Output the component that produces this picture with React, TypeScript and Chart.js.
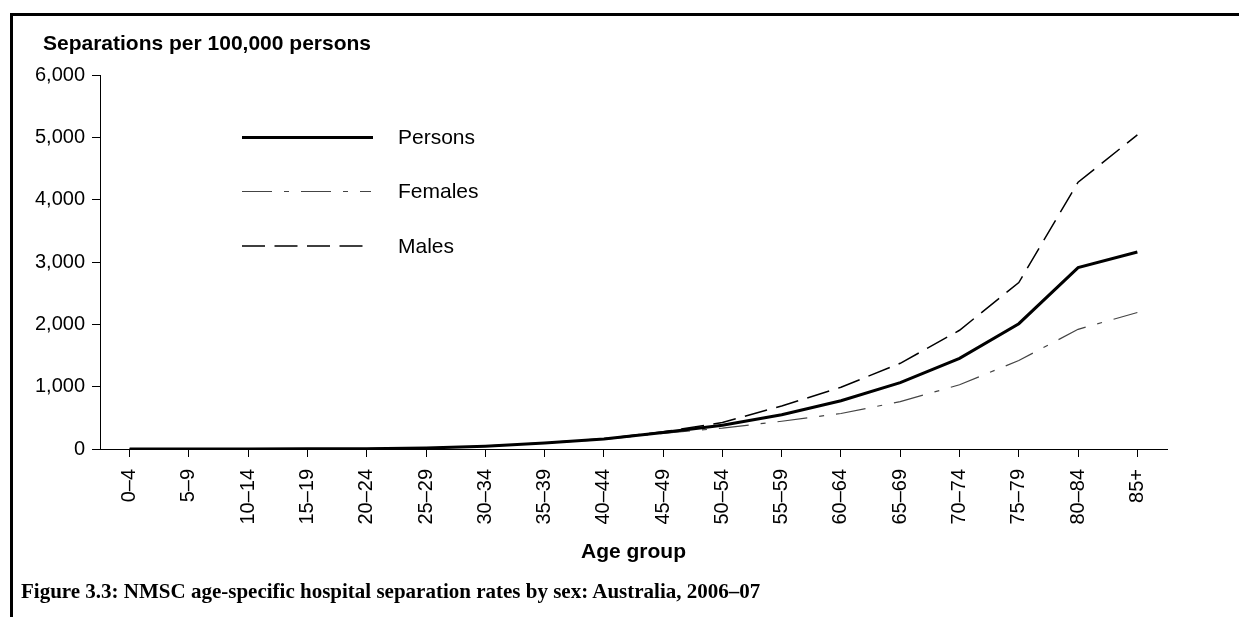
import React, { useEffect, useRef } from "react";
import { Chart, registerables } from "chart.js";

Chart.register(...registerables);

const ageGroups = [
  "0–4", "5–9", "10–14", "15–19", "20–24", "25–29", "30–34", "35–39", "40–44",
  "45–49", "50–54", "55–59", "60–64", "65–69", "70–74", "75–79", "80–84", "85+",
];
const persons = [1, 1, 2, 3, 6, 15, 45, 95, 160, 265, 380, 550, 775, 1065, 1455, 2010, 2910, 3160];
const females = [1, 1, 2, 3, 6, 15, 44, 92, 155, 250, 335, 445, 570, 760, 1030, 1420, 1920, 2190];
const males = [1, 1, 2, 3, 6, 15, 46, 98, 165, 275, 425, 690, 990, 1375, 1905, 2670, 4280, 5040];
const seriesNames = ["Persons", "Females", "Males"];
const yMin = 0;
const yMax = 6000;
const yStep = 1000;

const yTitle = "Separations per 100,000 persons";
const xTitle = "Age group";
const caption = "Figure 3.3: NMSC age-specific hospital separation rates by sex: Australia, 2006–07";

const SANS = '"Liberation Sans", Arial, sans-serif';

export default function App() {
  const ref = useRef<HTMLCanvasElement>(null);

  useEffect(() => {
    if (!ref.current) return;
    Chart.defaults.font.family = SANS;
    Chart.defaults.color = "#000";

    const legendRows = [137.5, 191.5, 246];
    const overlay = {
      id: "overlay",
      afterDatasetsDraw(chart: any) {
        const ctx = chart.ctx as CanvasRenderingContext2D;
        ctx.save();
        chart.data.datasets.forEach((ds: any, i: number) => {
          const y = legendRows[i];
          ctx.beginPath();
          ctx.setLineDash(ds.borderDash || []);
          ctx.lineWidth = ds.borderWidth;
          ctx.strokeStyle = ds.borderColor;
          ctx.moveTo(242, y);
          ctx.lineTo(i === 0 ? 373 : 371, y);
          ctx.stroke();
          ctx.setLineDash([]);
          ctx.fillStyle = "#000";
          ctx.font = `21px ${SANS}`;
          ctx.textBaseline = "alphabetic";
          ctx.textAlign = "left";
          ctx.fillText(ds.label, 398, y + 6.5);
        });
        ctx.font = `bold 21px ${SANS}`;
        ctx.fillStyle = "#000";
        ctx.textBaseline = "alphabetic";
        ctx.textAlign = "left";
        ctx.fillText(yTitle, 43, 50);
        ctx.restore();
      },
    };

    const chart = new Chart(ref.current, {
      type: "line",
      data: {
        labels: ageGroups,
        datasets: [
          {
            label: seriesNames[0],
            data: persons,
            borderColor: "#000",
            borderWidth: 3,
            pointRadius: 0,
            tension: 0,
            fill: false,
          },
          {
            label: seriesNames[1],
            data: females,
            borderColor: "#444",
            borderWidth: 1.2,
            borderDash: [30, 12, 5, 12],
            pointRadius: 0,
            tension: 0,
            fill: false,
          },
          {
            label: seriesNames[2],
            data: males,
            borderColor: "#000",
            borderWidth: 1.5,
            borderDash: [23, 9.5],
            pointRadius: 0,
            tension: 0,
            fill: false,
          },
        ],
      },
      options: {
        responsive: false,
        animation: false,
        events: [],
        layout: { padding: { top: 75, right: 72, left: 0, bottom: 0 } },
        plugins: {
          legend: { display: false },
          tooltip: { enabled: false },
          title: { display: false },
        },
        scales: {
          x: {
            type: "category",
            offset: true,
            grid: {
              display: true,
              drawOnChartArea: false,
              drawTicks: true,
              tickLength: 8,
              color: "#000",
              offset: false,
              lineWidth: 1,
            },
            border: { display: true, color: "#000", width: 1 },
            ticks: {
              autoSkip: false,
              minRotation: 90,
              maxRotation: 90,
              padding: 12,
              color: "#000",
              font: { size: 20 },
            },
            title: {
              display: true,
              text: xTitle,
              color: "#000",
              font: { size: 21, weight: "bold" },
              padding: { top: 0, bottom: 15 },
            },
            afterFit: (s: any) => {
              s.height = 131;
            },
          },
          y: {
            min: yMin,
            max: yMax,
            ticks: {
              stepSize: yStep,
              padding: 7,
              color: "#000",
              font: { size: 20 },
              callback: (v: any) => Number(v).toLocaleString("en-US"),
            },
            grid: {
              drawOnChartArea: false,
              drawTicks: true,
              tickLength: 8,
              color: "#000",
              lineWidth: 1,
            },
            border: { display: true, color: "#000", width: 1 },
            afterFit: (s: any) => {
              s.width = 100;
            },
          },
        },
      },
      plugins: [overlay],
    });
    return () => chart.destroy();
  }, []);

  return (
    <div
      style={{
        position: "fixed",
        left: 0,
        top: 0,
        width: 1239,
        height: 617,
        overflow: "hidden",
        background: "#fff",
      }}
    >
      <div
        style={{
          position: "absolute",
          left: 10,
          top: 13,
          width: 1300,
          height: 700,
          borderTop: "3px solid #000",
          borderLeft: "3px solid #000",
        }}
      />
      <canvas
        ref={ref}
        width={1239}
        height={580}
        style={{ position: "absolute", left: 0, top: 0, width: 1239, height: 580 }}
      />
      <div
        style={{
          position: "absolute",
          left: 21,
          top: 581,
          fontFamily: '"Liberation Serif", "DejaVu Serif", serif',
          fontWeight: "bold",
          fontSize: 21,
          lineHeight: "21px",
          whiteSpace: "nowrap",
          color: "#000",
        }}
      >
        {caption}
      </div>
    </div>
  );
}
